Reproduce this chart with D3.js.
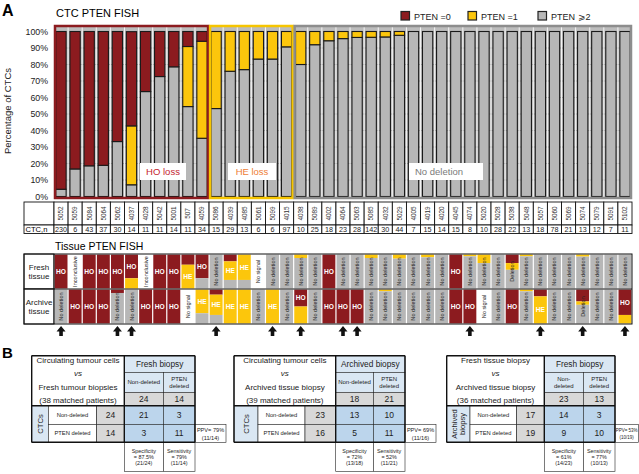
<!DOCTYPE html>
<html><head><meta charset="utf-8">
<script src="https://cdn.jsdelivr.net/npm/d3@7"></script>
<style>body{margin:0;background:#fff;} svg{display:block;font-family:"Liberation Sans",Arial,Helvetica,sans-serif;}</style>
</head><body><svg id="c" width="639" height="474"></svg>
<script>
// ---------- DATA ----------
const ids = ["5052","5059","5084","5064","5062","4037","4028","5042","5001","507","4059","5086","4039","4085","5061","5099","4015","4038","5089","4002","4064","5063","5085","4032","5029","4005","4019","4020","4045","4074","5020","5028","5038","5048","5057","5060","5069","5074","5079","5091","5102"];
const ctcN = [230,6,43,37,30,14,11,11,14,11,34,15,29,13,6,6,97,10,25,18,23,28,142,30,44,7,15,14,15,8,10,28,22,13,18,78,21,13,12,7,11];
const pten0 = [95.6,83.3,81.4,81.1,66.7,57.1,36.4,27.3,21.4,9.1,5.9,0,0,0,0,0,0,0,0,0,0,0,0,0,0,0,0,0,0,0,0,0,0,0,0,0,0,0,0,0,0];
const pten1 = [0,0,0,0,0,35.7,0,0,0,36.4,58.8,46.7,24.1,23.1,16.7,16.7,9.3,20,8,5.6,4.3,3.6,3.5,3.3,2.3,0,0,0,0,0,0,0,0,0,0,0,0,0,0,0,0];
const pten2 = [4.4,16.7,18.6,18.9,33.3,7.1,63.6,72.7,78.6,54.5,35.3,53.3,75.9,76.9,83.3,83.3,90.7,80,92,94.4,95.7,96.4,96.5,96.7,97.7,100,100,100,100,100,100,100,100,100,100,100,100,100,100,100,100];
const groupNames = ["HO loss","HE loss","No deletion"];
const groupSizes = [11,6,24];
const yTicks = [0,10,20,30,40,50,60,70,80,90,100];
const legendLabels = ["PTEN =0","PTEN =1","PTEN \u2A7E2"];

const freshLabels = ["HO","Inconclusive","HO","HO","HO","HO","Inconclusive","HO","HO","HE","HO","No deletion","HE","HE","No signal","No deletion","No deletion","No deletion","No deletion","HO","No deletion","No deletion","No deletion","No deletion","No deletion","No deletion","No deletion","No deletion","HO","No deletion","No deletion","No deletion","Deletion","No deletion","No deletion","No deletion","No deletion","No deletion","No deletion","No deletion","No deletion"];
const freshRed =    [1,0,1,1,1,0.7,0,1,1,0.3,0.7,0,0.2,0,0,0,0,0,0,1,0,0,0,0,0,0,0,0,1,0,0,0,0.25,0,0,0,0,0,0,0,0];
const freshYellow = [0,0,0,0,0,0.3,0,0,0,0.7,0,0,0.55,0.75,0,0,0,0.1,0,0,0,0,0.1,0,0.12,0,0.08,0,0,0.05,0.25,0,0.2,0.05,0,0,0,0.06,0,0,0];
const freshGray =   [0,0,0,0,0,0,0,0,0,0,0.3,1,0.25,0.25,0,1,1,0.9,1,0,1,1,0.9,1,0.88,1,0.92,1,0,0.95,0.75,1,0.55,0.95,1,1,1,0.94,1,1,1];
const archiveLabels = ["No deletion","HO","HO","HO","No deletion","No deletion","HO","HO","HO","No signal","HE","HE","HE","HE","No deletion","HE","No deletion","HO","No deletion","HO","HO","HO","No deletion","No deletion","No deletion","No deletion","No deletion","No deletion","HO","HO","No signal","No deletion","HO","No deletion","HE","No deletion","No deletion","Deletion","No deletion","No deletion","HO"];
const archiveRed =    [0,1,1,1,0.1,0,1,1,1,0,0,0.15,0,0,0,0,0,0.5,0,1,1,1,0,0,0,0,0,0,1,1,0,0,1,0,0.2,0,0,0.35,0,0,0.75];
const archiveYellow = [0,0,0,0,0,0,0,0,0,0,0.7,0.6,1,1,0,1,0,0.5,0,0,0,0,0,0.05,0,0,0,0,0,0,0,0,0,0.05,0.8,0,0,0.1,0,0,0.25];
const archiveGray =   [1,0,0,0,0.9,1,0,0,0,0,0.3,0.25,0,0,1,0,1,0,1,0,0,0,1,0.95,1,1,1,1,0,0,0,1,0,0.95,0,1,1,0.55,1,1,0];
const arrowCols = [0,4,5,11,15,17,20,21,29,34,37,40];

const tableTitles = [["Circulating tumour cells","vs","Fresh tumour biopsies","(38 matched patients)"],["Circulating tumour cells","vs","Archived tissue biopsy","(39 matched patients)"],["Fresh tissue biopsy","vs","Archived tissue biopsy","(36 matched patients)"]];
const tableColHeads = ["Fresh biopsy","Archived biopsy","Fresh biopsy"];
const tableSubHeads = [[["Non-deleted"],["PTEN","deleted"]],[["Non-deleted"],["PTEN","deleted"]],[["Non-","deleted"],["PTEN","deleted"]]];
const tableRowHeads = [["CTCs"],["CTCs"],["Archived","biopsy"]];
const rowLabels = ["Non-deleted","PTEN deleted"];
const colTotals = [[24,14],[18,21],[23,13]];
const rowTotals = [[24,14],[23,16],[17,19]];
const cellCounts = [[[21,3],[3,11]],[[13,10],[5,11]],[[14,3],[9,10]]];
const specTexts = [["Specificity","= 87.5%","(21/24)"],["Specificity","= 72%","(13/18)"],["Specificity","= 61%","(14/23)"]];
const sensTexts = [["Sensitivity","= 79%","(11/14)"],["Sensitivity","= 52%","(11/21)"],["Sensitivity","= 77%","(10/13)"]];
const ppvTexts = [["PPV= 79%","(11/14)"],["PPV= 69%","(11/16)"],["PPV= 53%","(10/19)"]];

// ---------- STYLE ----------
const RED="#8c1b1f", YEL="#fcc60c", GRY="#b7b7b7";
const svg = d3.select("#c");
const x0=54, x1=632;
const idx = d3.range(ids.length);
const xBand = d3.scaleBand().domain(idx).range([x0,x1]);
const xBar = d3.scaleBand().domain(idx).range([x0,x1]).paddingInner(0.27).paddingOuter(0.13);
const y = d3.scaleLinear().domain([0,100]).range([196.5,31.5]);
const color = d3.scaleOrdinal().domain(["r","y","g"]).range([RED,YEL,GRY]);

// panel letters & titles
svg.append("text").attr("x",2).attr("y",16).attr("font-size",16).attr("font-weight","bold").text("A");
svg.append("text").attr("x",56).attr("y",17).attr("font-size",11).text("CTC PTEN FISH");
svg.append("text").attr("x",2).attr("y",358).attr("font-size",15).attr("font-weight","bold").text("B");

// legend
const lg = svg.append("g");
const legX=[401,468,538];
legendLabels.forEach((l,i)=>{
  lg.append("rect").attr("x",legX[i]).attr("y",11.5).attr("width",8.5).attr("height",8.5)
    .attr("fill",[RED,YEL,GRY][i]).attr("stroke","#222").attr("stroke-width",1.2);
  lg.append("text").attr("x",legX[i]+13).attr("y",19.5).attr("font-size",9).attr("fill","#222").text(l);
});

// plot background
svg.append("rect").attr("x",x0).attr("y",25).attr("width",x1-x0).attr("height",174).attr("fill","#bdbdbd");
svg.append("g").selectAll("line").data(yTicks.slice(1,-1)).join("line")
  .attr("x1",x0).attr("x2",x1).attr("y1",d=>y(d)).attr("y2",d=>y(d)).attr("stroke","#8a8a8a").attr("stroke-width",0.8);
svg.append("g").selectAll("line").data(idx.slice(1)).join("line")
  .attr("x1",d=>xBand(d)).attr("x2",d=>xBand(d)).attr("y1",25).attr("y2",199).attr("stroke","#f4f4f4").attr("stroke-width",1);

// bars
const rows = idx.map(i=>({i, g:pten2[i], y:pten1[i], r:pten0[i]}));
const stack = d3.stack().keys(["g","y","r"])(rows);
svg.append("g").selectAll("g").data(stack).join("g").attr("fill",d=>color(d.key))
  .selectAll("rect").data(d=>d.filter(s=>s[1]-s[0]>0)).join("rect")
  .attr("x",d=>xBar(d.data.i)).attr("width",xBar.bandwidth())
  .attr("y",d=>y(d[1])).attr("height",d=>y(d[0])-y(d[1]))
  .attr("stroke","#1a1a1a").attr("stroke-width",1.1);

// group boxes
let start=0;
const gCols=["#8c1b1f","#f6c500","#8d8d8d"];
groupSizes.forEach((n,k)=>{
  const xa=xBand(start), xb=xBand(start+n-1)+xBand.bandwidth();
  svg.append("rect").attr("x",xa+1).attr("y",26).attr("width",xb-xa-2).attr("height",172)
    .attr("fill","none").attr("stroke",gCols[k]).attr("stroke-width",2.5);
  start+=n;
});
// group annotations
const annBoxes=[[140,46,"#c4222d"],[228,48,"#ee7d34"],[409,74,"#7a7a7a"]];
groupNames.forEach((nm,k)=>{
  const [bx,bw,tc]=annBoxes[k];
  svg.append("rect").attr("x",bx).attr("y",163).attr("width",bw).attr("height",17).attr("fill","#fff");
  svg.append("text").attr("x",bx+(k==2?6:bw/2)).attr("y",175).attr("text-anchor",k==2?"start":"middle")
    .attr("font-size",9.5).attr("fill",tc).text(nm);
});

// y axis
const ax = svg.append("g").attr("transform","translate(48,0)")
  .call(d3.axisLeft(y).tickValues(yTicks).tickFormat(d=>d+"%").tickSize(0).tickPadding(0));
ax.select(".domain").remove();
ax.selectAll("text").attr("font-size",8.8).attr("fill","#222").attr("font-family","Liberation Sans, Arial, sans-serif");
svg.append("text").attr("transform","translate(11,111) rotate(-90)").attr("text-anchor","middle")
  .attr("font-size",9.5).attr("fill","#222").text("Percentage of CTCs");

// ID table
const tb = svg.append("g");
const tY=[202,225,233.5];
tb.append("rect").attr("x",24).attr("y",tY[0]).attr("width",x0-24).attr("height",tY[1]-tY[0]).attr("fill","#fff").attr("stroke","#111").attr("stroke-width",0.9);
tb.append("rect").attr("x",24).attr("y",tY[1]).attr("width",x0-24).attr("height",tY[2]-tY[1]).attr("fill","#fff").attr("stroke","#111").attr("stroke-width",0.9);
tb.append("text").attr("x",25.5).attr("y",232).attr("font-size",7.6).text("CTC,n");
idx.forEach(i=>{
  const cx=xBand(i)+xBand.bandwidth()/2;
  tb.append("rect").attr("x",xBand(i)).attr("y",tY[0]).attr("width",xBand.bandwidth()).attr("height",tY[1]-tY[0]).attr("fill","#fff").attr("stroke","#111").attr("stroke-width",0.9);
  tb.append("rect").attr("x",xBand(i)).attr("y",tY[1]).attr("width",xBand.bandwidth()).attr("height",tY[2]-tY[1]).attr("fill","#fff").attr("stroke","#111").attr("stroke-width",0.9);
  tb.append("text").attr("transform",`translate(${cx+2.3},${(tY[0]+tY[1])/2}) rotate(-90)`).attr("text-anchor","middle")
    .attr("font-size",6.4).attr("fill","#333").text(ids[i]);
  tb.append("text").attr("x",cx).attr("y",232).attr("text-anchor","middle").attr("font-size",7.2).attr("fill","#222").text(ctcN[i]);
});

// Tissue section
svg.append("text").attr("x",55).attr("y",250).attr("font-size",10.5).text("Tissue PTEN FISH");
const tissueRows=[
  {labels:freshLabels,r:freshRed,yv:freshYellow,g:freshGray,name:["Fresh","tissue"],y0:254,y1:289},
  {labels:archiveLabels,r:archiveRed,yv:archiveYellow,g:archiveGray,name:["Archive","tissue"],y0:289,y1:324}
];
const ts=svg.append("g");
tissueRows.forEach(row=>{
  const h=row.y1-row.y0;
  ts.append("rect").attr("x",24).attr("y",row.y0).attr("width",x0-24).attr("height",h).attr("fill","#fff").attr("stroke","#111").attr("stroke-width",0.9);
  row.name.forEach((t,j)=>ts.append("text").attr("x",39).attr("y",row.y0+h/2-1.5+j*9).attr("text-anchor","middle").attr("font-size",8).attr("fill","#222").text(t));
  idx.forEach(i=>{
    const xa=xBand(i)+0.6, w=xBand.bandwidth()-1.2;
    const segs=[["r",row.r[i]],["y",row.yv[i]],["g",row.g[i]]];
    let yy=row.y0+0.6; const hh=h-1.2;
    ts.append("rect").attr("x",xa).attr("y",yy).attr("width",w).attr("height",hh).attr("fill","#fff");
    let labelY=row.y0+h/2;
    segs.forEach(([k,f])=>{
      if(f>0){
        ts.append("rect").attr("x",xa).attr("y",yy).attr("width",w).attr("height",f*hh).attr("fill",color(k));
        if((row.labels[i]=="HO"&&k=="r")||(row.labels[i]=="HE"&&k=="y")) labelY=yy+f*hh/2;
        yy+=f*hh;
      }
    });
    const cx=xBand(i)+xBand.bandwidth()/2;
    const lab=row.labels[i];
    if(lab=="HO"||lab=="HE"){
      ts.append("text").attr("x",cx).attr("y",labelY).attr("dy","0.35em").attr("text-anchor","middle")
        .attr("font-size",6.6).attr("font-weight","bold").attr("fill","#fff").text(lab);
    } else {
      ts.append("text").attr("transform",`translate(${cx+2},${row.y0+h/2}) rotate(-90)`).attr("text-anchor","middle")
        .attr("font-size",5.6).attr("fill","#222").text(lab);
    }
  });
});
ts.append("rect").attr("x",24).attr("y",254).attr("width",x1-24).attr("height",70).attr("fill","none").attr("stroke","#111").attr("stroke-width",1);
ts.append("line").attr("x1",24).attr("x2",x1).attr("y1",289).attr("y2",289).attr("stroke","#111").attr("stroke-width",1);
ts.append("line").attr("x1",x0).attr("x2",x0).attr("y1",254).attr("y2",324).attr("stroke","#111").attr("stroke-width",1);

// arrows
svg.append("g").selectAll("path").data(arrowCols).join("path")
  .attr("d",d=>{const c=xBand(d)+xBand.bandwidth()/2;
    return `M${c-4.5},331.5 L${c},326 L${c+4.5},331.5 L${c+1.8},331.5 L${c+1.8},336 L${c-1.8},336 L${c-1.8},331.5 Z`;})
  .attr("fill","#111");

// ---------- Part B tables ----------
const rowE=[355.7,372.3,392.3,405.7,424.3,442.3,471.7];
const colE=[[31.7,48.3,96.7,124.3,163.3,195],[234,258,305,335.7,373.3,405],[446.7,470,516.7,544.3,583.3,615]];
const LB="#dae7f3", DB="#bcd5ec", GC="#d8d8d8";
tableTitles.forEach((title,t)=>{
  const c=colE[t], r=rowE, g=svg.append("g");
  const cell=(xa,xb,ya,yb,fill,sw)=>g.append("rect").attr("x",xa).attr("y",ya).attr("width",xb-xa).attr("height",yb-ya)
     .attr("fill",fill).attr("stroke","#222").attr("stroke-width",sw||0.6);
  const txt=(x,yv,s,fs,extra)=>{const e=g.append("text").attr("x",x).attr("y",yv).attr("dy","0.35em").attr("text-anchor","middle").attr("font-size",fs).attr("fill","#222").text(s); if(extra) extra(e); return e;};
  // left block
  cell(c[0],c[3],r[0],r[3],"#fff");
  title.forEach((s,j)=>txt((c[0]+c[3])/2,[360.5,373.5,387,400][j],s,8,e=>{if(s=="vs") e.attr("font-style","italic");}));
  // header
  cell(c[3],c[5],r[0],r[1],LB);
  txt((c[3]+c[5])/2,(r[0]+r[1])/2,tableColHeads[t],8.3);
  [0,1].forEach(k=>{
    cell(c[3+k],c[4+k],r[1],r[2],LB);
    const sl=tableSubHeads[t][k];
    sl.forEach((s,j)=>txt((c[3+k]+c[4+k])/2,(r[1]+r[2])/2+(j-(sl.length-1)/2)*7,s,6));
    cell(c[3+k],c[4+k],r[2],r[3],GC);
    txt((c[3+k]+c[4+k])/2,(r[2]+r[3])/2,colTotals[t][k],8.5);
  });
  // rows
  cell(c[0],c[1],r[3],r[5],LB);
  const rh=tableRowHeads[t];
  rh.forEach((s,j)=>g.append("text").attr("transform",`translate(${(c[0]+c[1])/2+(j-(rh.length-1)/2)*8.5},${(r[3]+r[5])/2}) rotate(-90)`)
     .attr("dy","0.35em").attr("text-anchor","middle").attr("font-size",7.6).attr("fill","#222").text(s));
  [0,1].forEach(k=>{
    cell(c[1],c[2],r[3+k],r[4+k],"#fff");
    txt((c[1]+c[2])/2,(r[3+k]+r[4+k])/2,rowLabels[k],5.8);
    cell(c[2],c[3],r[3+k],r[4+k],GC);
    txt((c[2]+c[3])/2,(r[3+k]+r[4+k])/2,rowTotals[t][k],8.5);
    [0,1].forEach(m=>{
      cell(c[3+m],c[4+m],r[3+k],r[4+k],DB);
      txt((c[3+m]+c[4+m])/2,(r[3+k]+r[4+k])/2,cellCounts[t][k][m],8.5);
    });
  });
  // spec / sens
  [specTexts[t],sensTexts[t]].forEach((lines,m)=>{
    cell(c[3+m],c[4+m],r[5],r[6],"#fff");
    lines.forEach((s,j)=>txt((c[3+m]+c[4+m])/2,450.7+j*6,s,5.4));
  });
  // PPV
  const pw=Math.min(31,638.3-c[5]);
  const pfs=Math.min(5.6,(pw-1.2)/4.9);
  cell(c[5],c[5]+pw,r[4],r[5],"#fff");
  ppvTexts[t].forEach((s,j)=>txt(c[5]+pw/2,430.3+j*7.5,s,pfs));
  // thick lines
  const thick=(xa,ya,xb,yb)=>g.append("line").attr("x1",xa).attr("y1",ya).attr("x2",xb).attr("y2",yb).attr("stroke","#111").attr("stroke-width",1.4);
  thick(c[3],r[0],c[3],r[5]);
  thick(c[0],r[3],c[5],r[3]);
  thick(c[0],r[5],c[5],r[5]);
  thick(c[0],r[0],c[5],r[0]);
  thick(c[0],r[0],c[0],r[5]);
  thick(c[5],r[0],c[5],r[5]);
});
</script></body></html>
